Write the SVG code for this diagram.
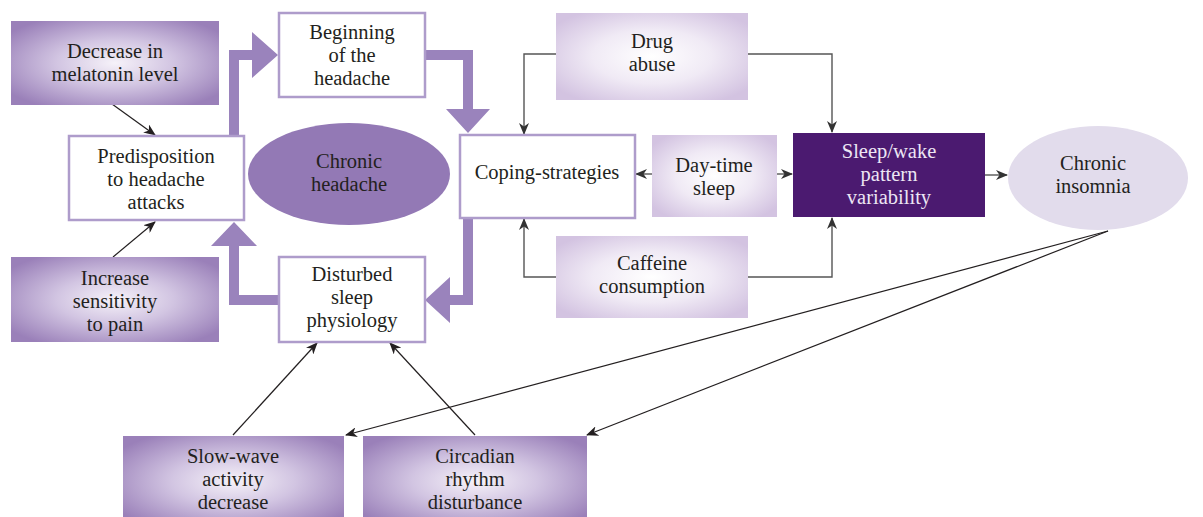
<svg xmlns="http://www.w3.org/2000/svg" width="1203" height="517" viewBox="0 0 1203 517">
<defs>
<radialGradient id="gDark" cx="0.5" cy="0.5" r="0.62">
<stop offset="0" stop-color="#F6F2F9"/>
<stop offset="0.45" stop-color="#D2C5E2"/>
<stop offset="1" stop-color="#9A80B9"/>
</radialGradient>
<radialGradient id="gLight" cx="0.5" cy="0.5" r="0.62">
<stop offset="0" stop-color="#FFFFFF"/>
<stop offset="0.5" stop-color="#F0EAF5"/>
<stop offset="1" stop-color="#D3C3E1"/>
</radialGradient>
<marker id="ah" markerWidth="12" markerHeight="10" refX="11" refY="5" orient="auto" markerUnits="userSpaceOnUse">
<path d="M0,0 L12,5 L0,10 L3.5,5 z" fill="#231F20"/>
</marker>
<marker id="ahg" markerWidth="12" markerHeight="10" refX="11" refY="5" orient="auto" markerUnits="userSpaceOnUse">
<path d="M0,0 L12,5 L0,10 L3.5,5 z" fill="#333333"/>
</marker>
</defs>
<style>
text{font-family:"Liberation Serif","DejaVu Serif",serif;font-size:20.5px;fill:#231F20;text-anchor:middle}
.wbox{fill:#FFFFFF;stroke:#AE9CCB;stroke-width:2.5}
.dark{fill:url(#gDark)}
.light{fill:url(#gLight)}
.thick{fill:#9A83BC}
.thin{fill:none;stroke:#231F20;stroke-width:1.2;marker-end:url(#ah)}
.gray{fill:none;stroke:#555555;stroke-width:1.4;marker-end:url(#ahg)}
.wt{fill:#EDE6F4}
</style>

<g id="connectors">
<path class="thick" d="M229,136 L229,50 L252,50 L252,32 L278,55 L252,78 L252,60 L239,60 L239,136 z"/>
<path class="thick" d="M424,50 L473,50 L473,109 L490,109 L468,133 L446,109 L463,109 L463,60 L424,60 z"/>
<path class="thick" d="M463,218 L473,218 L473,305 L450,305 L450,323 L425,300 L450,277 L450,295 L463,295 z"/>
<path class="thick" d="M278,295 L278,305 L229,305 L229,246 L211,246 L234,222 L257,246 L239,246 L239,295 z"/>
<line class="thin" x1="112" y1="104" x2="155" y2="135"/>
<line class="thin" x1="113" y1="257" x2="155" y2="222"/>
<path class="gray" d="M556,54 L524,54 L524,134"/>
<path class="gray" d="M748,54 L832,54 L832,132"/>
<path class="gray" d="M556,277 L524,277 L524,219"/>
<path class="gray" d="M748,277 L832,277 L832,218"/>
<line class="gray" x1="652" y1="174" x2="636" y2="174"/>
<line class="gray" x1="777" y1="174" x2="792" y2="174"/>
<line class="gray" x1="985" y1="175" x2="1007" y2="175"/>
<line class="thin" x1="1108" y1="231" x2="346" y2="435"/>
<line class="thin" x1="1108" y1="231" x2="587" y2="435"/>
<line class="thin" x1="233" y1="435" x2="317" y2="343"/>
<line class="thin" x1="475" y1="435" x2="390" y2="343"/>
</g>

<g id="decrease-melatonin">
<rect class="dark" x="11" y="21" width="208" height="84"/>
<text x="115" y="58">Decrease in</text>
<text x="115" y="81">melatonin level</text>
</g>

<g id="predisposition">
<rect class="wbox" x="69" y="136" width="175" height="84"/>
<text x="156" y="163">Predisposition</text>
<text x="156" y="186">to headache</text>
<text x="156" y="209">attacks</text>
</g>

<g id="increase-sensitivity">
<rect class="dark" x="11" y="257" width="208" height="85"/>
<text x="115" y="285">Increase</text>
<text x="115" y="308">sensitivity</text>
<text x="115" y="331">to pain</text>
</g>

<g id="beginning-headache">
<rect class="wbox" x="279" y="13" width="146" height="84"/>
<text x="352" y="39">Beginning</text>
<text x="352" y="62">of the</text>
<text x="352" y="85">headache</text>
</g>

<g id="chronic-headache">
<ellipse cx="349" cy="174" rx="101" ry="51" fill="#9379B5"/>
<text x="349" y="168">Chronic</text>
<text x="349" y="191">headache</text>
</g>

<g id="disturbed-sleep">
<rect class="wbox" x="279" y="257" width="146" height="85"/>
<text x="352" y="281">Disturbed</text>
<text x="352" y="304">sleep</text>
<text x="352" y="327">physiology</text>
</g>

<g id="coping-strategies">
<rect class="wbox" x="460" y="135" width="175" height="83"/>
<text x="547" y="179">Coping-strategies</text>
</g>

<g id="drug-abuse">
<rect class="light" x="556" y="13" width="192" height="87"/>
<text x="652" y="48">Drug</text>
<text x="652" y="71">abuse</text>
</g>

<g id="day-time-sleep">
<rect class="light" x="652" y="135" width="125" height="82"/>
<text x="714" y="172">Day-time</text>
<text x="714" y="195">sleep</text>
</g>

<g id="caffeine-consumption">
<rect class="light" x="556" y="236" width="192" height="82"/>
<text x="652" y="270">Caffeine</text>
<text x="652" y="293">consumption</text>
</g>

<g id="sleep-wake">
<rect x="793" y="133" width="192" height="84" fill="#4B1A70"/>
<text class="wt" x="889" y="158">Sleep/wake</text>
<text class="wt" x="889" y="181">pattern</text>
<text class="wt" x="889" y="204">variability</text>
</g>

<g id="chronic-insomnia">
<ellipse cx="1098" cy="178" rx="90" ry="52" fill="#E2DCEC"/>
<text x="1093" y="170">Chronic</text>
<text x="1093" y="193">insomnia</text>
</g>

<g id="slow-wave">
<rect class="dark" x="123" y="436" width="221" height="90"/>
<text x="233" y="463">Slow-wave</text>
<text x="233" y="486">activity</text>
<text x="233" y="509">decrease</text>
</g>

<g id="circadian">
<rect class="dark" x="363" y="436" width="224" height="90"/>
<text x="475" y="463">Circadian</text>
<text x="475" y="486">rhythm</text>
<text x="475" y="509">disturbance</text>
</g>
</svg>
